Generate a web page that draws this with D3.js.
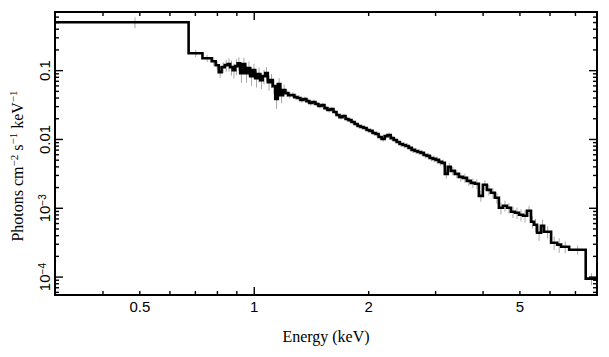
<!DOCTYPE html>
<html><head><meta charset="utf-8">
<script src="https://cdn.jsdelivr.net/npm/d3@7"></script>
<style>body{margin:0;background:#fff}</style>
</head><body>
<svg id="c" width="609" height="357"></svg>
<script>
// Bin edges (keV)
const edges = [0.3, 0.674, 0.733, 0.775, 0.794, 0.809, 0.823, 0.839, 0.854,
 0.867, 0.880, 0.894, 0.907, 0.921, 0.935, 0.950, 0.964, 0.979, 0.994, 1.009, 1.025, 1.040, 1.056, 1.072, 1.089, 1.105, 1.122, 1.139, 1.157, 1.175, 1.193, 1.211,
 1.233, 1.256, 1.279, 1.303, 1.327, 1.351, 1.376, 1.401, 1.427, 1.453, 1.480, 1.507, 1.535, 1.563, 1.592, 1.621, 1.651, 1.681, 1.712, 1.744, 1.776, 1.808, 1.842, 1.876, 1.910, 1.945, 1.981, 2.017, 2.054, 2.092, 2.130, 2.170, 2.210, 2.250, 2.292, 2.334, 2.377, 2.420, 2.465, 2.510, 2.556, 2.603, 2.651, 2.700, 2.750, 2.800, 2.852, 2.904, 2.958, 3.012, 3.068, 3.124, 3.182,
 3.240, 3.299,
 3.380, 3.463, 3.549, 3.636, 3.725, 3.817, 3.911, 4.007, 4.106, 4.207, 4.310, 4.416, 4.525, 4.636, 4.750, 4.867, 4.987, 5.110, 5.235, 5.364,
 5.463, 5.563, 5.700, 5.805, 6.058, 6.283, 6.437, 6.758, 7.471, 8.0];

// Flux per bin (photons cm^-2 s^-1 keV^-1)
const flux = [0.496, 0.176, 0.149, 0.135, 0.118, 0.0936, 0.1105, 0.1182,
 0.1222, 0.1105, 0.100, 0.1143, 0.1263, 0.0905, 0.1222, 0.0905, 0.1069, 0.0819, 0.100, 0.0766, 0.0875, 0.0716, 0.0819, 0.0905, 0.0670, 0.0716, 0.0586, 0.0380, 0.0627, 0.0434, 0.0513,
 0.0464, 0.0434, 0.0434, 0.0406, 0.0393, 0.0368, 0.0380, 0.0355, 0.0333, 0.0344, 0.0322, 0.0301, 0.0311, 0.0281, 0.0263, 0.0272, 0.0246, 0.0223, 0.0208, 0.0216, 0.0195, 0.0188, 0.0176, 0.0165, 0.0154, 0.0149, 0.0144, 0.0135, 0.0131, 0.0122, 0.0118, 0.0107, 0.0100, 0.0110, 0.0114, 0.0103, 0.00967, 0.00905, 0.00847, 0.00819, 0.00792, 0.00741, 0.00693, 0.00670, 0.00648, 0.00627, 0.00586, 0.00567, 0.00530, 0.00513, 0.00496, 0.00464, 0.00449,
 0.00311, 0.00393,
 0.00344, 0.00311, 0.00281, 0.00272, 0.00246, 0.00230, 0.00223, 0.00149, 0.00216, 0.00182, 0.00165, 0.00140, 0.00100, 0.00107, 0.00100, 0.000875, 0.000847, 0.000792, 0.000766, 0.000905,
 0.000627, 0.000567, 0.000434, 0.000548, 0.000449, 0.000311, 0.000291, 0.000272, 0.000246, 0.0000935];

// Relative 1-sigma errors per bin
const relErr = [0.18, 0.12, 0.12, 0.14, 0.15, 0.18, 0.18, 0.2,
 0.22, 0.25, 0.24, 0.26, 0.22, 0.28, 0.24, 0.27, 0.25, 0.28, 0.24, 0.27, 0.25, 0.26, 0.24, 0.22, 0.25, 0.23, 0.24, 0.28, 0.22, 0.24, 0.2,
 0.12, 0.11, 0.1, 0.1, 0.1, 0.09, 0.09, 0.09, 0.09, 0.09, 0.08, 0.08, 0.08, 0.08, 0.08, 0.08, 0.08, 0.08, 0.08, 0.08, 0.08, 0.08, 0.08, 0.08, 0.08, 0.08, 0.08, 0.08, 0.08, 0.08, 0.09, 0.09, 0.09, 0.09, 0.09, 0.09, 0.09, 0.09, 0.1, 0.1, 0.1, 0.1, 0.1, 0.1, 0.1, 0.1, 0.11, 0.11, 0.11, 0.11, 0.12, 0.12, 0.12,
 0.15, 0.14,
 0.14, 0.14, 0.15, 0.15, 0.15, 0.16, 0.16, 0.18, 0.16, 0.17, 0.17, 0.18, 0.2, 0.18, 0.18, 0.19, 0.19, 0.2, 0.2, 0.18,
 0.2, 0.22, 0.24, 0.22, 0.2, 0.22, 0.24, 0.2, 0.15, 0.2];

const xDomain = [0.3, 8];
const yDomain = [5.4e-5, 0.7];
const xLabelTicks = [0.5, 1, 2, 5];
const xMajorTicks = [1];
const xMinorTicks = [0.4, 0.5, 0.6, 0.7, 0.8, 0.9, 2, 3, 4, 5, 6, 7];
const yLabelTicks = [
  {v: 0.1, base: "0.1", sup: ""},
  {v: 0.01, base: "0.01", sup: ""},
  {v: 0.001, base: "10", sup: "\u22123"},
  {v: 0.0001, base: "10", sup: "\u22124"}
];
const xTitle = "Energy (keV)";

const W = 609, H = 357;
const L = 55, R = 597, T = 12, B = 295;
const svg = d3.select("#c");
const x = d3.scaleLog().domain(xDomain).range([L, R]);
const y = d3.scaleLog().domain(yDomain).range([B, T]);

const yMajor = [], yMinor = [];
for (let p = -5; p <= 0; p++) {
  for (let m = 1; m <= 9; m++) {
    const v = m * Math.pow(10, p);
    if (v < yDomain[0] || v > yDomain[1]) continue;
    (m === 1 ? yMajor : yMinor).push(v);
  }
}

const bins = flux.map((f, i) => ({lo: edges[i], hi: edges[i+1], f, e: f * relErr[i]}));

svg.append("defs").append("clipPath").attr("id", "clip")
  .append("rect").attr("x", L).attr("y", T).attr("width", R - L).attr("height", B - T);

const plot = svg.append("g").attr("clip-path", "url(#clip)");

// error bars
plot.append("g").selectAll("line").data(bins).join("line")
  .attr("x1", d => x((d.lo + d.hi) / 2)).attr("x2", d => x((d.lo + d.hi) / 2))
  .attr("y1", d => y(d.f + d.e)).attr("y2", d => y(Math.max(d.f - d.e, 1e-6)))
  .attr("stroke", "#a8a8a8").attr("stroke-width", 1);

// step histogram
const pts = [];
bins.forEach(d => { pts.push([d.lo, d.f]); pts.push([d.hi, d.f]); });
plot.append("path").datum(pts)
  .attr("d", d3.line().x(d => x(d[0])).y(d => y(d[1])))
  .attr("fill", "none").attr("stroke", "#000").attr("stroke-width", 2.6)
  .attr("stroke-linejoin", "miter");

// axes ticks (inward, all four sides)
function tickAxis(axisFn, scale, vals, len, transform) {
  const g = svg.append("g").attr("transform", transform)
    .call(axisFn(scale).tickValues(vals).tickSize(len).tickFormat(""));
  g.select(".domain").remove();
  g.selectAll(".tick line").attr("stroke", "#000").attr("stroke-width", 1.4);
  return g;
}
tickAxis(d3.axisBottom, x, xMinorTicks, -4, `translate(0,${B})`);
tickAxis(d3.axisBottom, x, xMajorTicks, -8, `translate(0,${B})`);
tickAxis(d3.axisTop, x, xMinorTicks, -4, `translate(0,${T})`);
tickAxis(d3.axisTop, x, xMajorTicks, -8, `translate(0,${T})`);
tickAxis(d3.axisLeft, y, yMinor, -4, `translate(${L},0)`);
tickAxis(d3.axisLeft, y, yMajor, -8, `translate(${L},0)`);
tickAxis(d3.axisRight, y, yMinor, -4, `translate(${R},0)`);
tickAxis(d3.axisRight, y, yMajor, -8, `translate(${R},0)`);

// frame
svg.append("rect").attr("x", L).attr("y", T).attr("width", R - L).attr("height", B - T)
  .attr("fill", "none").attr("stroke", "#000").attr("stroke-width", 2);

// x tick labels
const xl = svg.append("g").attr("transform", `translate(0,${B})`)
  .call(d3.axisBottom(x).tickValues(xLabelTicks).tickSize(0).tickPadding(6).tickFormat(d3.format("")));
xl.select(".domain").remove();
xl.selectAll("text").attr("font-family", "Liberation Sans, Arial, sans-serif")
  .attr("font-size", 15).attr("fill", "#000");

// y tick labels (rotated)
const yl = svg.append("g").attr("transform", `translate(${L},0)`)
  .call(d3.axisLeft(y).tickValues(yLabelTicks.map(d => d.v)).tickSize(0).tickFormat(""));
yl.select(".domain").remove();
yl.selectAll(".tick").each(function(v) {
  const info = yLabelTicks.find(d => d.v === v);
  const t = d3.select(this).append("text")
    .attr("transform", "translate(-5,0) rotate(-90)")
    .attr("text-anchor", "middle").attr("fill", "#000")
    .attr("font-family", "Liberation Sans, Arial, sans-serif").attr("font-size", 15);
  t.append("tspan").text(info.base);
  if (info.sup) t.append("tspan").attr("dy", "-0.45em").attr("font-size", 10).text(info.sup);
});

// axis titles
svg.append("text").attr("x", (L + R) / 2).attr("y", 342).attr("text-anchor", "middle")
  .attr("font-family", "Liberation Serif, Times New Roman, serif").attr("font-size", 16)
  .text(xTitle);

const yt = svg.append("text").attr("transform", "translate(23,166) rotate(-90)")
  .attr("text-anchor", "middle")
  .attr("font-family", "Liberation Serif, Times New Roman, serif").attr("font-size", 16);
const yParts = [["Photons cm", ""], ["\u22122", "sup"], [" s", ""], ["\u22121", "sup"], [" keV", ""], ["\u22121", "sup"]];
let raised = false;
yParts.forEach(([txt, kind]) => {
  const s = yt.append("tspan").text(txt);
  if (kind === "sup") { s.attr("font-size", 11).attr("dy", "-0.5em"); raised = true; }
  else if (raised) { s.attr("dy", "0.34em"); raised = false; }
});
</script>
</body></html>
